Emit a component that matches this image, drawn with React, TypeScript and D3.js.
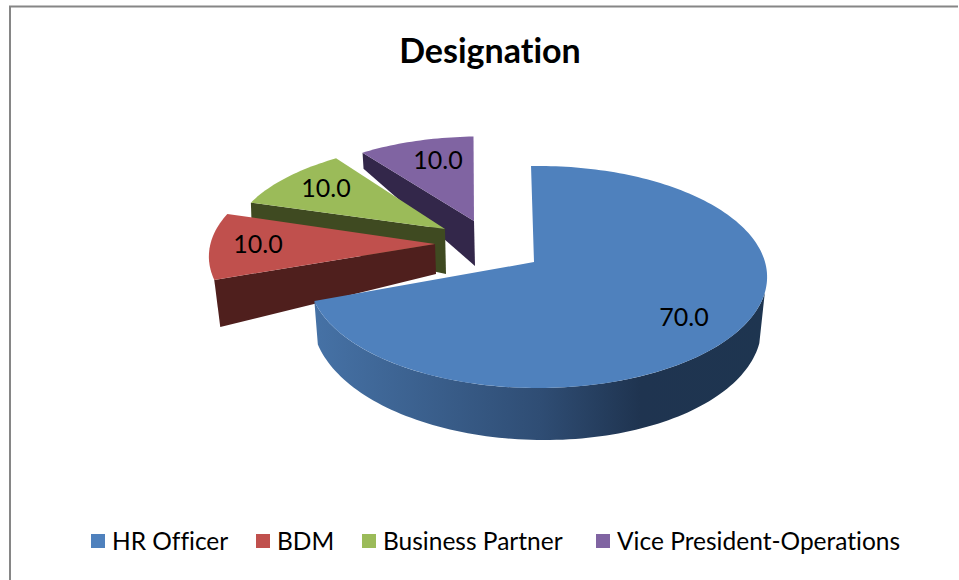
import React from 'react';
import * as d3 from 'd3';

const title = 'Designation';
const categories = ['HR Officer', 'BDM', 'Business Partner', 'Vice President-Operations'];
const values = [70, 10, 10, 10];
const topColors = ['#4F81BD', '#C0504D', '#9BBB59', '#8064A2'];
const sideColors = ['#1F3450', '#4F1F1D', '#3F4A21', '#33274A'];

// each wedge sits at its own spot, the far ones look smaller
const apexX = [534, 435, 445, 474];
const apexY = [262, 244, 229, 221];
const rimShiftX = [4, 0, 19, 6];
const rimShiftY = [0, -2, 0, 0];
const wedgeScaleX = [1, 0.987, 1.013, 0.93];
const wedgeScaleY = [1, 0.97, 0.91, 0.88];
const outerDepth = [46, 47, 30, 16];
const innerDepth = [46, 30, 45, 45];
const outerLean = [0, 6, 1, 1];
const labelX = [684, 258, 326, 438];
const labelY = [318, 245, 189, 161];
const legendX = [91, 256, 362, 596];

const width = 959;
const height = 580;
const rx = 227;
const ry = 109;
const persp = 0.135;
const startAngle = (-2 * Math.PI) / 180;

const pieGen = d3.pie<number>().sort(null).startAngle(startAngle).endAngle(startAngle + 2 * Math.PI);
const arcs = pieGen(values);
const colorTop = d3.scaleOrdinal<string, string>().domain(categories).range(topColors);
const colorSide = d3.scaleOrdinal<string, string>().domain(categories).range(sideColors);

// disc angle to screen offset, near side of the disc is drawn bigger
const project = (a: number, sx = 1, sy = 1): [number, number] => {
  const u = Math.sin(a);
  const v = -Math.cos(a);
  const w = 1 - persp * v;
  return [(sx * rx * u) / w, (sy * ry * v) / w];
};

const rimPoint = (i: number, a: number): [number, number] => {
  const [x, y] = project(a, wedgeScaleX[i], wedgeScaleY[i]);
  return [apexX[i] + rimShiftX[i] + x, apexY[i] + rimShiftY[i] + y];
};

const lineGen = d3.line();

const angleSteps = (a0: number, a1: number) => {
  const n = Math.max(2, Math.ceil(Math.abs(a1 - a0) * 40));
  return d3.range(n + 1).map((i) => a0 + ((a1 - a0) * i) / n);
};

const topPath = (i: number) => {
  const arc = arcs[i];
  const rim = angleSteps(arc.startAngle, arc.endAngle).map((a) => rimPoint(i, a));
  return lineGen([[apexX[i], apexY[i]], ...rim]) + 'Z';
};

// the straight cut face of a wedge, hanging under the edge at angle a
const facePath = (i: number, a: number) => {
  const [ox, oy] = rimPoint(i, a);
  return (
    lineGen([
      [apexX[i], apexY[i]],
      [ox, oy],
      [ox + outerLean[i], oy + outerDepth[i]],
      [apexX[i] + 1, apexY[i] + innerDepth[i]],
    ]) + 'Z'
  );
};

// outer wall of the big slice, only the part facing the viewer
const wallPath = () => {
  const angles = angleSteps(Math.PI / 2 + 0.273, arcs[0].endAngle);
  const upper = angles.map((a) => rimPoint(0, a));
  const lower = angles
    .map((a): [number, number] => {
      const [x, y] = project(a, 0.98, 0.98);
      const u = Math.sin(a);
      const v = -Math.cos(a);
      const depth = 44.66 + 9.84 * v + 4.2 * u;
      return [apexX[0] + rimShiftX[0] - 1 + x, apexY[0] + y + depth];
    })
    .reverse();
  return lineGen([...upper, ...lower]) + 'Z';
};

const fontFamily = 'Lato, "Open Sans", sans-serif';

export default function App() {
  return (
    <svg
      width={width}
      height={height}
      style={{ position: 'absolute', left: 0, top: 0, background: '#fff', fontVariantLigatures: 'none' }}
      fontFamily={fontFamily}
    >
      <defs>
        <linearGradient id="wallShade" gradientUnits="userSpaceOnUse" x1={313} x2={767} y1={0} y2={0}>
          <stop offset="0" stopColor="#4672A6" />
          <stop offset="0.5" stopColor="#2F4D74" />
          <stop offset="0.72" stopColor="#1F3450" />
          <stop offset="1" stopColor="#1E3550" />
        </linearGradient>
      </defs>
      <path d="M10 580V6.5H958" fill="none" stroke="#868686" strokeWidth={2} />
      <text x={490} y={63} textAnchor="middle" fontSize={34} fontWeight={700} fill="#000">
        {title}
      </text>

      {[3, 2, 1].map((i) => (
        <g key={categories[i]}>
          <path d={facePath(i, arcs[i].startAngle)} fill={colorSide(categories[i])} />
          <path d={topPath(i)} fill={colorTop(categories[i])} />
        </g>
      ))}
      <path d={wallPath()} fill="url(#wallShade)" />
      <path d={topPath(0)} fill={colorTop(categories[0])} />

      {values.map((v, i) => (
        <text key={i} x={labelX[i]} y={labelY[i] + 8} textAnchor="middle" fontSize={25} fill="#000">
          {d3.format('.1f')(v)}
        </text>
      ))}

      {categories.map((c, i) => (
        <g key={c} transform={`translate(${legendX[i]},534)`}>
          <rect width={14} height={14} fill={colorTop(c)} />
          <text x={21} y={16} fontSize={24.5} fill="#000">
            {c}
          </text>
        </g>
      ))}
    </svg>
  );
}
